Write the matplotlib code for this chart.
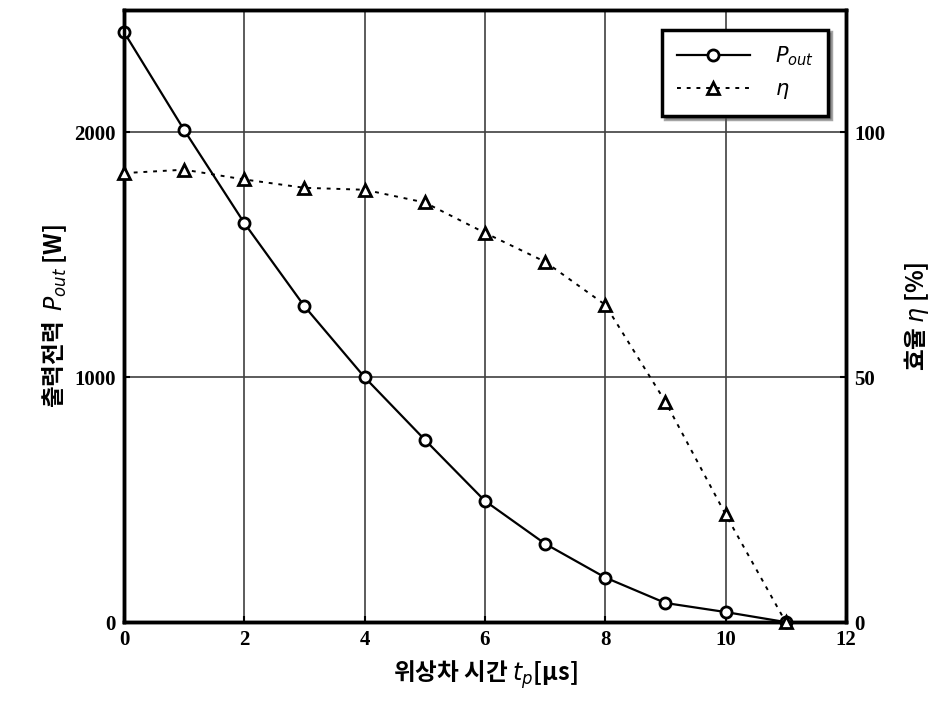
import matplotlib
matplotlib.use("Agg")
import matplotlib.pyplot as plt

plt.rcParams['font.family'] = ['Noto Sans CJK KR', 'DejaVu Sans']

# data
t_p = [0, 1, 2, 3, 4, 5, 6, 7, 8, 9, 10, 11]
p_out = [2410, 2010, 1630, 1290, 1000, 745, 495, 320, 182, 78, 41, 0]
eta = [91.7, 92.4, 90.4, 88.7, 88.3, 85.7, 79.5, 73.6, 64.8, 45.0, 22.0, 0.0]

x_ticks = [0, 2, 4, 6, 8, 10, 12]
p_ticks = [0, 1000, 2000]
eta_ticks = [0, 50, 100]

fig = plt.figure(figsize=(9.43, 7.2), dpi=100)
ax = fig.add_axes([0.1315, 0.136, 0.7655, 0.85])
ax2 = ax.twinx()

ax.set_xlim(0, 12)
ax.set_ylim(0, 2500)
ax2.set_ylim(0, 125)

ax.set_xticks(x_ticks)
ax.set_yticks(p_ticks)
ax2.set_yticks(eta_ticks)
ax.grid(True, color="0.25", linewidth=1.2)
ax.set_axisbelow(True)

for lab in ax.get_xticklabels() + ax.get_yticklabels() + ax2.get_yticklabels():
    lab.set_fontfamily("Liberation Serif")
    lab.set_fontsize(15)
    lab.set_fontweight("bold")
ax.tick_params(direction="in", length=4, width=1.5, pad=6)
ax2.tick_params(direction="in", length=4, width=1.5, pad=6)

for a in (ax, ax2):
    for s in a.spines.values():
        s.set_linewidth(2.5)
        s.set_color("black")

l1, = ax.plot(t_p, p_out, color="black", linewidth=1.6, marker="o", markersize=8,
              markerfacecolor="white", markeredgewidth=2, clip_on=False, zorder=3)
l2, = ax2.plot(t_p, eta, color="black", linewidth=1.4, linestyle=(0, (2, 3)), marker="^",
               markersize=8, markerfacecolor="white", markeredgewidth=2, clip_on=False, zorder=3)

ax.set_xlabel("위상차 시간 $t_p$[μs]", fontsize=17, fontweight="bold", labelpad=6)
ax.set_ylabel("출력전력  $P_{out}$ [W]", fontsize=17, fontweight="bold", labelpad=4)
ax2.set_ylabel("효율 $\\eta$ [%]", fontsize=17, fontweight="bold", rotation=90, labelpad=12)

leg = ax2.legend([l1, l2], ["$P_{out}$", "$\\eta$"], loc="upper right",
                 bbox_to_anchor=(0.99, 0.985), fontsize=15, fancybox=False, shadow=True,
                 framealpha=1, edgecolor="black", handlelength=3.5, borderpad=0.7,
                 handletextpad=1.2)
leg.get_frame().set_linewidth(2.5)

fig.savefig("out.png", dpi=100)
plt.close(fig)
